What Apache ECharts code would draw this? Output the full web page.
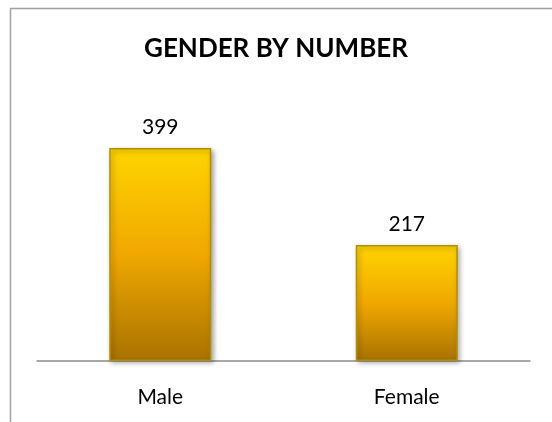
<!DOCTYPE html>
<html><head><meta charset="utf-8">
<script src="https://cdn.jsdelivr.net/npm/echarts@6/dist/echarts.min.js"></script>
<style>html,body{margin:0;padding:0;background:#fff}#c{width:552px;height:422px}</style>
</head><body><div id="c"></div>
<script>
var categories = ['Male', 'Female'];
var values = [399, 217];
var titleText = 'GENDER BY NUMBER';

var chart = echarts.init(document.getElementById('c'), null, {renderer: 'canvas'});
chart.setOption({
  animation: false,
  backgroundColor: '#fff',
  graphic: [{
    type: 'rect', shape: {x: 10.5, y: 8.5, width: 600, height: 500},
    style: {fill: 'none', stroke: '#a0a0a0', lineWidth: 1.5}, silent: true
  }],
  title: {
    text: titleText, left: 'center', top: 31,
    textStyle: {fontFamily: 'Lato', fontWeight: 'bold', fontSize: 26, color: '#000'}
  },
  grid: {left: 37, right: 22, top: 94, bottom: 61},
  xAxis: {
    type: 'category', data: categories,
    axisLine: {lineStyle: {color: '#8c8c8c', width: 1.5}},
    axisTick: {show: false},
    axisLabel: {fontFamily: 'Lato', fontSize: 21, color: '#000', margin: 26}
  },
  yAxis: {type: 'value', min: 0, max: 500, show: false, splitLine: {show: false}},
  series: [{
    type: 'bar', data: values, barWidth: 102,
    label: {show: true, position: 'top', distance: 10, fontFamily: 'Lato', fontSize: 21, color: '#000'},
    itemStyle: {
      color: new echarts.graphic.LinearGradient(0, 0, 0, 1, [
        {offset: 0, color: '#ffd400'},
        {offset: 0.5, color: '#f0a800'},
        {offset: 1, color: '#a87200'}
      ]),
      borderColor: '#b09000', borderWidth: 1.5,
      shadowColor: 'rgba(0,0,0,0.35)', shadowBlur: 5, shadowOffsetX: 2, shadowOffsetY: 2
    }
  }]
});
</script></body></html>
